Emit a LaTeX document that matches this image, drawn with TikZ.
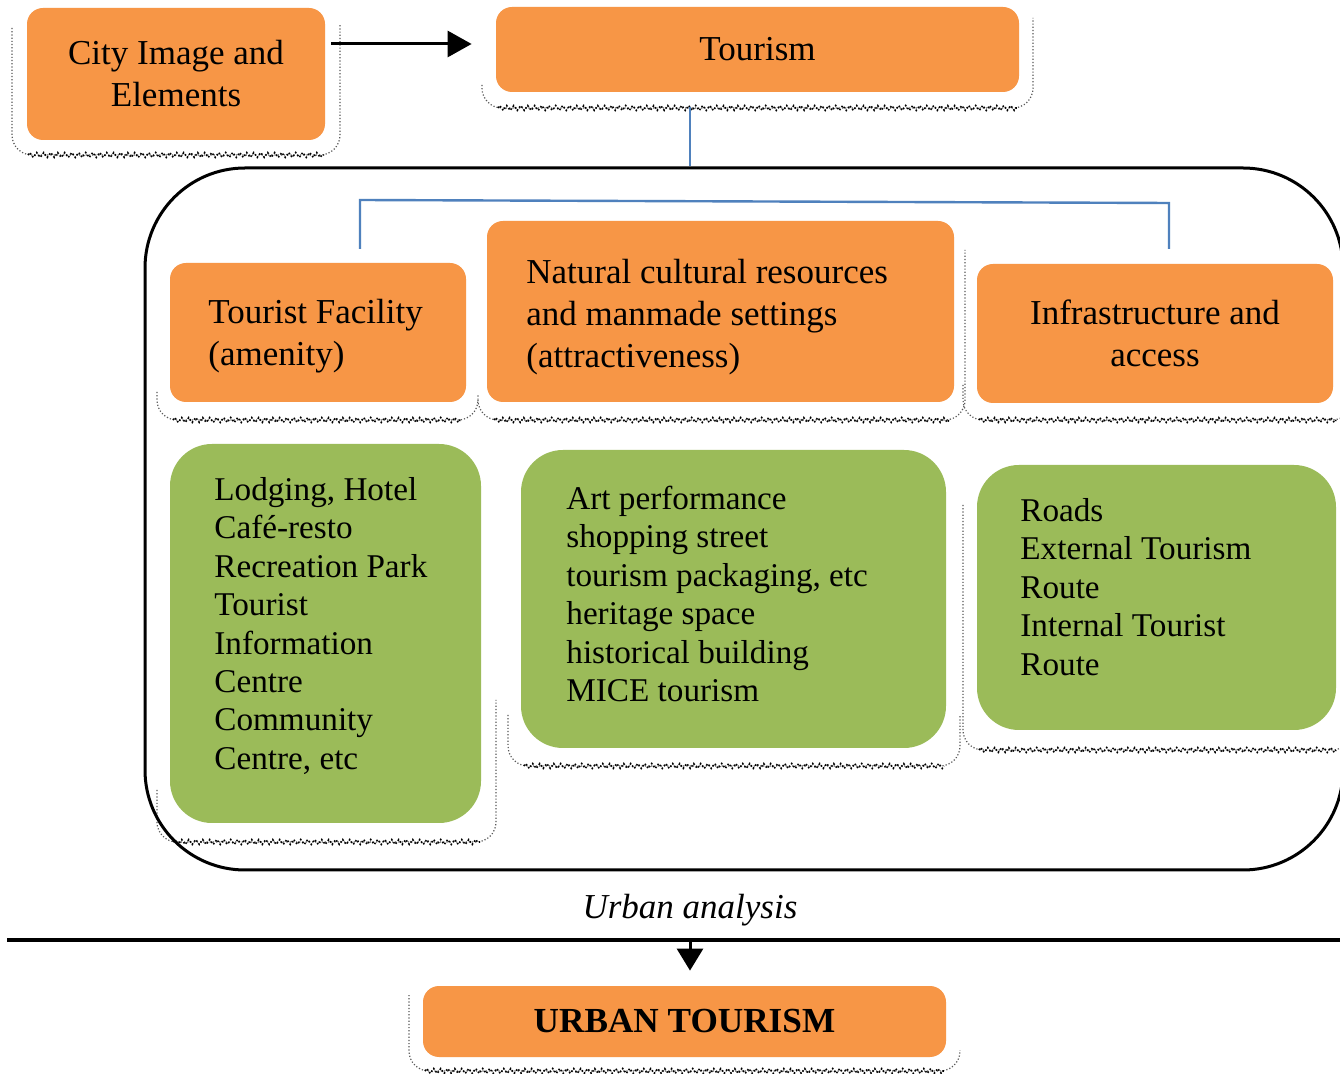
\documentclass[tikz,border=0pt]{standalone}
\usepackage{fontspec}
\setmainfont{Liberation Serif}
\usetikzlibrary{arrows.meta,decorations.pathmorphing,calc}
\definecolor{boxorange}{HTML}{F79646}
\definecolor{boxgreen}{HTML}{9BBB59}
\definecolor{linkblue}{HTML}{4F81BD}

% soft drop shade under a box: left x, left start y, right x, right start y, bottom y
\newcommand\dropshade[5]{%
  \draw[shadeside] (#1,#2) -- (#1,#5) -- (#3,#5) -- (#3,#4);
  \draw[shadebottom] ({#1+16},#5) -- ({#3-16},#5);
}

\begin{document}
\begin{tikzpicture}[x=0.5pt,y=-0.5pt,
  orangebox/.style={fill=boxorange, draw=none, rounded corners=8pt, inner sep=0pt,
    align=center, font=\fontsize{17.5}{21}\selectfont},
  greenbox/.style={fill=boxgreen, draw=none, rounded corners=21pt, inner sep=0pt},
  orangetext/.style={inner sep=0pt, align=left, anchor=west, font=\fontsize{17.5}{21}\selectfont},
  greentext/.style={inner sep=0pt, align=left, anchor=west, font=\fontsize{16.6}{19.2}\selectfont},
  container/.style={draw=black, line width=1.5pt, rounded corners=50pt, inner sep=0pt},
  link/.style={draw=linkblue, line width=1.2pt},
  flow/.style={draw=black, line width=1.5pt, -{Triangle[length=12pt,width=13pt]}},
  shadeside/.style={black!65, densely dotted, line width=0.6pt, rounded corners=10pt},
  shadebottom/.style={black, densely dotted, line width=0.8pt,
    decorate, decoration={zigzag, amplitude=1.2pt, segment length=3.5pt}},
]
\useasboundingbox (0,0) rectangle (1340,1074);
\fill[white] (0,0) rectangle (1340,1074);

% drop shades
\dropshade{12}{28}{340}{25}{155}
\dropshade{482}{85}{1033}{18}{108}
\dropshade{157}{392}{478}{395}{420}
\dropshade{478}{400}{965}{250}{420}
\dropshade{963}{385}{1352}{385}{420}
\dropshade{157}{790}{496}{700}{842}
\dropshade{508}{715}{960}{715}{766}
\dropshade{963}{505}{1352}{505}{750}
\dropshade{409}{995}{960}{1050}{1071}

% top row
\node[orangebox, minimum width=149pt, minimum height=66pt] (city) at (176,74)
  {City Image and\\Elements};
\node[orangebox, minimum width=261.5pt, minimum height=42.5pt] (tour) at (757.5,49.5)
  {Tourism};
\draw[flow] ([xshift=3pt]city.east |- 0,44) -- ([xshift=-12pt]tour.west |- 0,44);

% enclosing frame
\node[container, minimum width=599pt, minimum height=351pt] (frame) at (744,519) {};
\coordinate (tourfoot) at (690,107);
\draw[link] (tourfoot) -- (tourfoot |- frame.north);

% branch line to the three factors
\coordinate (brL) at (360,249);
\coordinate (brLt) at (360,200);
\coordinate (brRt) at (1169,203);
\coordinate (brR) at (1169,249);
\draw[link] (brL) -- (brLt) -- (brRt) -- (brR);

% factors
\node[orangebox, minimum width=148pt, minimum height=69.5pt] (fac) at (318,332.5) {};
\node[orangetext] (factext) at (208,336) {Tourist Facility\\(amenity)};
\node[orangebox, minimum width=233.5pt, minimum height=90.5pt] (nat) at (720.5,311.5) {};
\node[orangetext] (nattext) at (526,317)
  {Natural cultural resources\\and manmade settings\\(attractiveness)};
\node[orangebox, minimum width=178pt, minimum height=69.5pt] (inf) at (1155,333.5)
  {Infrastructure and\\access};

% elements of each factor
\node[greenbox, minimum width=155.5pt, minimum height=189.5pt] (gfac) at (325.5,633.5) {};
\node[greentext] (gfactext) at (214,626)
  {Lodging, Hotel\\Café-resto\\Recreation Park\\Tourist\\Information\\Centre\\Community\\Centre, etc};
\node[greenbox, minimum width=212.5pt, minimum height=149pt] (gnat) at (733.5,599) {};
\node[greentext] (gnattext) at (566,594)
  {Art performance\\shopping street\\tourism packaging, etc\\heritage space\\historical building\\MICE tourism};
\node[greenbox, minimum width=179.5pt, minimum height=132.5pt] (ginf) at (1156.5,597.5) {};
\node[greentext] (ginftext) at (1020,587)
  {Roads\\External Tourism\\Route\\Internal Tourist\\Route};

% urban analysis
\node[inner sep=0pt, font=\fontsize{17.5}{21}\selectfont\itshape] (ua) at (690,910) {Urban analysis};
\coordinate (baseL) at (7,940);
\coordinate (baseR) at (1340,940);
\draw[black, line width=2pt] (baseL) -- (baseR);
\node[orangebox, minimum width=261.5pt, minimum height=35.5pt, font=\fontsize{17.6}{21}\selectfont\bfseries]
  (urban) at (684.5,1021.5) {URBAN TOURISM};
\coordinate (drop) at (690,940);
\draw[draw=black, line width=1.5pt, -{Triangle[length=11pt,width=13pt]}]
  (drop) -- ([yshift=7.5pt]drop |- urban.north);
\end{tikzpicture}
\end{document}
